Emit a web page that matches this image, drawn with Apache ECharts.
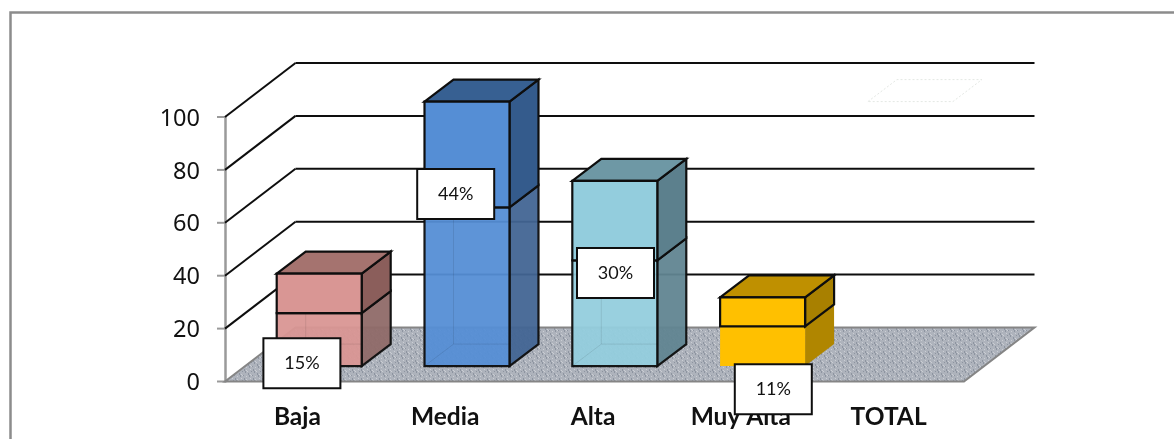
<!DOCTYPE html>
<html>
<head>
<meta charset="utf-8">
<style>html,body{margin:0;padding:0;background:#fff}#c{width:1174px;height:439px}</style>
<script src="https://cdn.jsdelivr.net/npm/echarts@6/dist/echarts.min.js"></script>
</head>
<body>
<div id="c"></div>
<script>
const categories = ['Baja', 'Media', 'Alta', 'Muy Alta', 'TOTAL'];
const frecuencia = [20, 60, 40, 15, 135];
const porcentaje = [15, 44, 30, 11, 100];
const etiquetas = ['15%', '44%', '30%', '11%', null];
const yTicks = [20, 40, 60, 80, 100];

const AXIS_MAX = 100;
const WALL = { dx: 70.5, dy: -54 };
const BAR_IN = { dx: 20.3, dy: -15.4 };
const BAR_DEPTH = { dx: 29, dy: -22 };
const BAR_RATIO = 0.575;
const INK = '#0E0E0E';
const TICK = { stroke: '#9A9A9A', lineWidth: 2 };
const palette = [
  { front: '#D99694', top: '#A5736F', side: '#8B5E5B', low: '#8F6A68', a: 0.95, edge: true },
  { front: '#558ED5', top: '#376092', side: '#345B8C', low: '#426594', a: 0.95, edge: true },
  { front: '#93CDDD', top: '#6E98A5', side: '#5C808D', low: '#618591', a: 0.95, edge: true },
  { front: '#FFC000', top: '#BF9000', side: '#A88000', low: '#B08600', a: 1, edge: false }
];
const labelShift = [[3, 54.6], [9, 29.5], [21, 37], [31, 62]];

function floorTexture() {
  const c = document.createElement('canvas');
  c.width = 9; c.height = 9;
  const g = c.getContext('2d');
  g.fillStyle = '#AEB3BC';
  g.fillRect(0, 0, 9, 9);
  g.fillStyle = '#8D94A0';
  [[1,0],[1,1],[2,2],[2,3],[5,4],[5,5],[6,6],[6,7],[8,2],[0,6]].forEach(p => g.fillRect(p[0], p[1], 1, 1));
  g.fillStyle = '#CBCED4';
  [[3,1],[4,2],[7,5],[8,6],[3,7],[7,0]].forEach(p => g.fillRect(p[0], p[1], 1, 1));
  return c;
}
const texture = floorTexture();

function poly(points, style, extra) {
  return Object.assign({ type: 'polygon', shape: { points }, style }, extra || {});
}
function line(x1, y1, x2, y2, style) {
  return { type: 'line', shape: { x1, y1, x2, y2 }, style: Object.assign({ stroke: INK, lineWidth: 2 }, style || {}) };
}

function renderWall(params, api) {
  const cs = params.coordSys;
  const y = api.coord([0, api.value(0)])[1];
  const x0 = cs.x, xb = cs.x + WALL.dx, xe = cs.x + cs.width + WALL.dx, yb = y + WALL.dy;
  return { type: 'group', children: [line(x0 - 8, y, x0, y, TICK), line(x0, y, xb, yb), line(xb, yb, xe, yb)] };
}

function renderFloor(params, api) {
  const cs = params.coordSys;
  const y = api.coord([0, 0])[1];
  return { type: 'group', children: [
    line(cs.x - 8, y, cs.x, y, TICK),
    poly(
      [[cs.x, y], [cs.x + WALL.dx, y + WALL.dy], [cs.x + cs.width + WALL.dx, y + WALL.dy], [cs.x + cs.width, y]],
      { fill: { image: texture, repeat: 'repeat' }, stroke: '#858585', lineWidth: 2 }
    )
  ] };
}

function renderBar(params, api) {
  const i = api.value(0), lower = api.value(1), upper = api.value(2);
  const size = api.size([1, 0])[0];
  const w = size * BAR_RATIO;
  const cx = api.coord([i, 0])[0] + BAR_IN.dx;
  const xl = cx - w / 2, xr = cx + w / 2;
  const ddx = BAR_DEPTH.dx, ddy = BAR_DEPTH.dy;
  const py = v => api.coord([i, Math.min(v, AXIS_MAX)])[1] + BAR_IN.dy;
  const y0 = py(0), y1 = py(lower), y2 = py(lower + upper);
  const kids = [];
  if (i === 4) {
    kids.push(poly([[xl, y2], [xl + ddx, y2 + ddy], [xr + ddx, y2 + ddy], [xr, y2]],
      { fill: 'none', stroke: '#E4E8E4', lineWidth: 1, lineDash: [2, 2] }));
    return { type: 'group', children: kids };
  }
  const p = palette[i];
  const edge = p.edge ? { stroke: INK, lineWidth: 2.2, lineJoin: 'miter' } : { stroke: 'none' };
  kids.push(poly([[xr, y0], [xr + ddx, y0 + ddy], [xr + ddx, y1 + ddy], [xr, y1]],
    Object.assign({ fill: p.low, opacity: p.a }, edge)));
  kids.push(poly([[xl, y0], [xr, y0], [xr, y1], [xl, y1]],
    Object.assign({ fill: p.front, opacity: p.a }, edge)));
  if (p.edge) {
    const ghost = { stroke: '#000', lineWidth: 1, opacity: 0.09 };
    kids.push(line(xl + ddx, y0 + ddy, xl + ddx, y1 + ddy, ghost));
    kids.push(line(xl + ddx, y0 + ddy, xr, y0 + ddy, ghost));
    kids.push(line(xl, y0, xl + ddx, y0 + ddy, ghost));
  }
  const solid = { stroke: INK, lineWidth: 2.2, lineJoin: 'miter' };
  kids.push(poly([[xr, y1], [xr + ddx, y1 + ddy], [xr + ddx, y2 + ddy], [xr, y2]],
    Object.assign({ fill: p.side }, solid)));
  kids.push(poly([[xl, y2], [xl + ddx, y2 + ddy], [xr + ddx, y2 + ddy], [xr, y2]],
    Object.assign({ fill: p.top }, solid)));
  kids.push(poly([[xl, y1], [xr, y1], [xr, y2], [xl, y2]],
    Object.assign({ fill: p.front }, solid)));
  return { type: 'group', children: kids };
}

function renderLabel(params, api) {
  const i = api.value(0);
  const text = etiquetas[i];
  if (!text) return null;
  const pt = api.coord([i, api.value(1) + api.value(2) / 2]);
  const s = labelShift[i];
  const x = pt[0] + s[0], y = pt[1] + s[1];
  return {
    type: 'group',
    children: [
      { type: 'rect', shape: { x: x - 38.5, y: y - 25, width: 77, height: 50 },
        style: { fill: '#fff', stroke: INK, lineWidth: 2 } },
      { type: 'text', style: { x, y, text, fill: '#111', font: '18px Lato', align: 'center', verticalAlign: 'middle' } }
    ]
  };
}

const barData = categories.map((c, i) => [i, frecuencia[i], porcentaje[i]]);
const chart = echarts.init(document.getElementById('c'), null, { renderer: 'canvas' });
chart.setOption({
  animation: false,
  backgroundColor: '#fff',
  grid: { left: 225, top: 117, width: 739, height: 264.5 },
  graphic: [{
    type: 'polyline', z: 0,
    shape: { points: [[10.5, 445], [10.5, 12.5], [1180, 12.5]] },
    style: { fill: 'none', stroke: '#8C8C8C', lineWidth: 2.5 }
  }],
  xAxis: {
    type: 'category', data: categories,
    axisLine: { show: false }, axisTick: { show: false },
    axisLabel: { margin: 23, padding: [0, 3, 0, 0], color: '#111', fontFamily: 'Lato', fontWeight: 'bold', fontSize: 24.5, interval: 0 }
  },
  yAxis: {
    type: 'value', min: 0, max: AXIS_MAX, interval: 20,
    splitLine: { show: false },
    axisLine: { show: true, lineStyle: { color: '#9A9A9A', width: 2.5 } },
    axisTick: { show: false },
    axisLabel: {
      margin: 25, formatter: '{n|{value}}',
      rich: { n: { padding: [4, 0, 0, 0], color: '#111', fontFamily: 'Noto Sans', fontSize: 23.5 } }
    }
  },
  series: [
    { type: 'custom', z: 2, renderItem: renderFloor, data: [[0]], encode: { y: 0 }, silent: true },
    { type: 'custom', z: 2, renderItem: renderWall, data: yTicks.map(v => [v]), encode: { y: 0 }, silent: true },
    { type: 'custom', z: 3, renderItem: renderBar, data: barData, encode: { x: 0, y: 1 }, silent: true },
    { type: 'custom', z: 4, renderItem: renderLabel, data: barData, encode: { x: 0, y: 1 }, silent: true }
  ]
});
</script>
</body>
</html>
